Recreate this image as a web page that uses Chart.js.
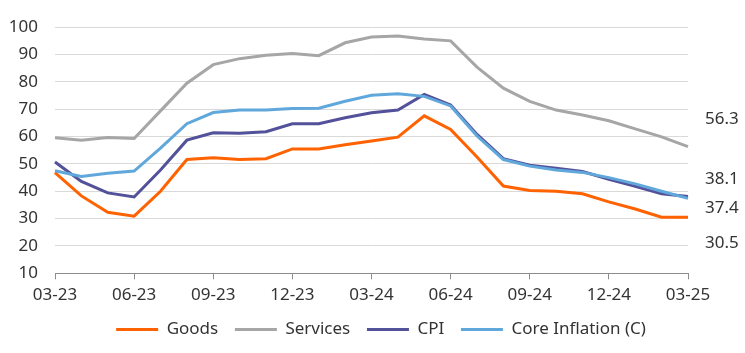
<!DOCTYPE html>
<html>
<head>
<meta charset="utf-8">
<script src="https://cdn.jsdelivr.net/npm/chart.js@4"></script>
<style>
  html, body { margin: 0; padding: 0; background: #fff; }
  #wrap { width: 745px; height: 353px; }
</style>
</head>
<body>
<div id="wrap"><canvas id="chart" width="745" height="353"></canvas></div>
<script>
'use strict';

// months 03-23 .. 03-25
const months = [
  '03-23','04-23','05-23','06-23','07-23','08-23','09-23','10-23','11-23','12-23',
  '01-24','02-24','03-24','04-24','05-24','06-24','07-24','08-24','09-24','10-24',
  '11-24','12-24','01-25','02-25','03-25'
];

const goods = [46.8, 38.3, 32.3, 30.9, 40.0, 51.6, 52.3, 51.6, 51.9, 55.5, 55.5, 57.0, 58.4,
  59.8, 67.6, 62.6, 52.5, 41.9, 40.3, 40.0, 39.1, 36.1, 33.5, 30.5, 30.5];
const services = [59.6, 58.7, 59.7, 59.3, 69.4, 79.5, 86.3, 88.5, 89.7, 90.4, 89.6, 94.3, 96.4,
  96.8, 95.7, 95.0, 85.4, 77.7, 72.9, 69.7, 67.9, 65.8, 62.8, 59.9, 56.3];
const cpi = [50.7, 43.6, 39.4, 37.9, 47.8, 58.7, 61.4, 61.2, 61.8, 64.7, 64.7, 66.9, 68.7,
  69.7, 75.4, 71.5, 60.8, 51.9, 49.5, 48.4, 47.2, 44.4, 41.8, 39.1, 38.1];
const core = [47.5, 45.4, 46.6, 47.4, 55.8, 64.7, 68.8, 69.7, 69.7, 70.3, 70.4, 72.9, 75.1,
  75.7, 74.7, 71.2, 60.2, 51.6, 49.2, 47.8, 46.9, 45.0, 42.7, 40.0, 37.4];

const COLORS = {
  goods:    '#FF6200',
  services: '#A6A6A6',
  cpi:      '#525199',
  core:     '#60A8DC',
  text:     '#333333',
  grid:     '#D9D9D9',
  axis:     '#8C8C8C',
};

const FONT = "'Noto Sans', 'DejaVu Sans', sans-serif";

// ── End-value labels on the right ─────────────
const endLabels = {
  id: 'endLabels',
  afterDraw(chart) {
    const { ctx, chartArea } = chart;
    // dataset index, text centre y
    const rows = [[1, 119], [2, 179], [3, 208], [0, 243]];
    ctx.save();
    ctx.font = '17px ' + FONT;
    ctx.fillStyle = COLORS.text;
    ctx.textBaseline = 'middle';
    ctx.textAlign = 'left';
    rows.forEach(([di, y]) => {
      const d = chart.data.datasets[di].data;
      ctx.fillText(d[d.length - 1].toFixed(1), chartArea.right + 17, y);
    });
    ctx.restore();
  }
};

// legend sits a little right of centre in the original
const legendShift = {
  id: 'legendShift',
  afterLayout(chart) {
    if (!chart.legend) return;
    chart.legend.left += 37;
    chart.legend.right += 37;
  }
};

function line(label, data, color, order) {
  return {
    label, data, order,
    borderColor: color,
    backgroundColor: color,
    borderWidth: 3,
    pointRadius: 0,
    tension: 0,
    fill: false,
  };
}

new Chart(document.getElementById('chart'), {
  type: 'line',
  data: {
    labels: months,
    datasets: [
      line('Goods', goods, COLORS.goods, 3),
      line('Services', services, COLORS.services, 2),
      line('CPI', cpi, COLORS.cpi, 1),
      line('Core Inflation (C)', core, COLORS.core, 0),
    ],
  },
  options: {
    responsive: false,
    animation: false,
    layout: { padding: { top: 4, right: 57, left: 0, bottom: 5 } },
    plugins: {
      tooltip: { enabled: false },
      legend: {
        position: 'bottom',
        labels: {
          usePointStyle: true,
          pointStyle: 'line',
          pointStyleWidth: 42,
          boxWidth: 42,
          boxHeight: 17,
          padding: 16.7,
          color: COLORS.text,
          font: { family: FONT, size: 17 },
          sort: (a, b) => a.datasetIndex - b.datasetIndex,
        },
      },
    },
    scales: {
      x: {
        offset: false,
        afterFit(scale) { scale.height = 31; },
        border: { display: true, color: COLORS.axis, width: 1 },
        grid: {
          drawOnChartArea: false,
          drawTicks: true,
          tickLength: 6,
          color: c => (c.index % 3 === 0 ? COLORS.axis : 'rgba(0,0,0,0)'),
        },
        ticks: {
          autoSkip: false,
          maxRotation: 0,
          padding: 6,
          color: COLORS.text,
          font: { family: FONT, size: 17 },
          callback(v, i) { return i % 3 === 0 ? months[i] : ''; },
        },
      },
      y: {
        min: 10,
        max: 100,
        afterFit(scale) { scale.width = 55; },
        border: { display: false },
        grid: { color: COLORS.grid, drawTicks: false, lineWidth: 1 },
        ticks: {
          stepSize: 10,
          padding: 17,
          color: COLORS.text,
          font: { family: FONT, size: 17 },
        },
      },
    },
  },
  plugins: [endLabels, legendShift],
});
</script>
</body>
</html>
